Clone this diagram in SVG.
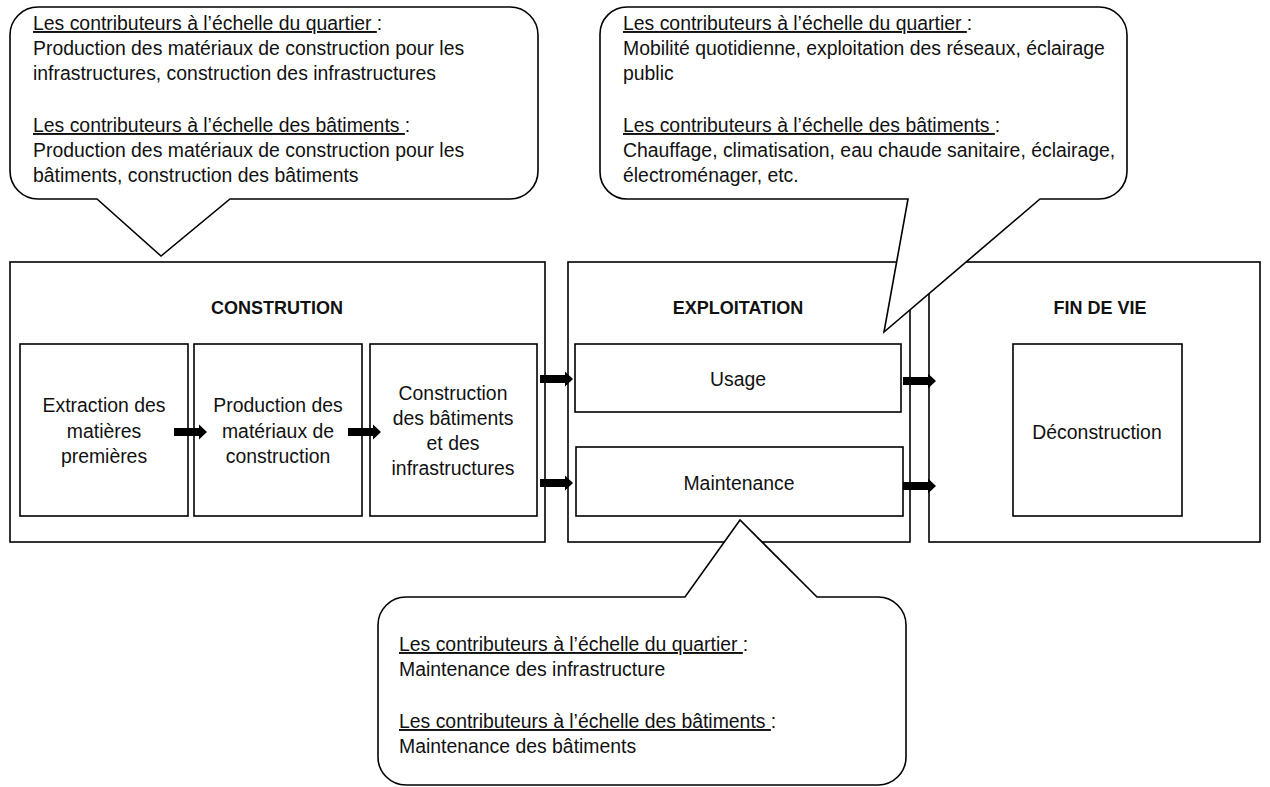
<svg xmlns="http://www.w3.org/2000/svg" xmlns:xlink="http://www.w3.org/1999/xlink" width="1270" height="787" viewBox="0 0 1270 787">
<style>
.box{fill:#fff;stroke:#000;stroke-width:1.6}
.call{fill:#fff;stroke:#000;stroke-width:1.6;stroke-linejoin:miter}
text{font-family:"Liberation Sans",Arial,sans-serif;font-size:19.4px;fill:#111}
.c{text-anchor:middle}
.b{font-weight:bold;font-size:18px}
.u{text-decoration:underline}
</style>
<defs>
<path id="arr" d="M0,-4 H25 V-7.5 L33,0 L25,7.5 V4 H0 Z" fill="#000"/>
</defs>
<rect width="1270" height="787" fill="#fff"/>
<g id="construction">
<rect class="box" x="10" y="262" width="535" height="280"/>
<text class="c b" x="277" y="314">CONSTRUTION</text>
</g>
<g id="extraction">
<rect class="box" x="20" y="344" width="168" height="172"/>
<text class="c" x="104" y="412">Extraction des</text>
<text class="c" x="104" y="438">matières</text>
<text class="c" x="104" y="463">premières</text>
</g>
<g id="production">
<rect class="box" x="194" y="344" width="168" height="172"/>
<text class="c" x="278" y="412">Production des</text>
<text class="c" x="278" y="438">matériaux de</text>
<text class="c" x="278" y="463">construction</text>
</g>
<g id="construction-bat">
<rect class="box" x="370" y="344" width="167" height="172"/>
<text class="c" x="453" y="400">Construction</text>
<text class="c" x="453" y="425">des bâtiments</text>
<text class="c" x="453" y="450">et des</text>
<text class="c" x="453" y="475">infrastructures</text>
</g>
<g id="exploitation">
<rect class="box" x="568" y="262" width="342" height="280"/>
<text class="c b" x="738" y="314">EXPLOITATION</text>
</g>
<g id="usage">
<rect class="box" x="575" y="344" width="326" height="68"/>
<text class="c" x="738" y="386">Usage</text>
</g>
<g id="maintenance">
<rect class="box" x="576" y="447" width="327" height="69"/>
<text class="c" x="739" y="490">Maintenance</text>
</g>
<g id="findevie">
<rect class="box" x="929" y="262" width="331" height="280"/>
<text class="c b" x="1100" y="314">FIN DE VIE</text>
</g>
<g id="deconstruction">
<rect class="box" x="1013" y="344" width="169" height="172"/>
<text class="c" x="1097" y="439">Déconstruction</text>
</g>
<g id="connectors">
<use xlink:href="#arr" x="174" y="432"/>
<use xlink:href="#arr" x="348" y="432"/>
<use xlink:href="#arr" x="540" y="379"/>
<use xlink:href="#arr" x="540" y="483"/>
<use xlink:href="#arr" x="903" y="381"/>
<use xlink:href="#arr" x="903" y="486"/>
</g>
<g id="callout-construction">
<path class="call" d="M38,7 H510 A28,28 0 0 1 538,35 V171 A28,28 0 0 1 510,199 H230 L161,256 L97,199 H38 A28,28 0 0 1 10,171 V35 A28,28 0 0 1 38,7 Z"/>
<text x="33" y="30"><tspan class="u">Les contributeurs à l’échelle du quartier </tspan>:</text>
<text x="33" y="55">Production des matériaux de construction pour les</text>
<text x="33" y="80">infrastructures, construction des infrastructures</text>
<text x="33" y="132"><tspan class="u">Les contributeurs à l’échelle des bâtiments </tspan>:</text>
<text x="33" y="157">Production des matériaux de construction pour les</text>
<text x="33" y="182">bâtiments, construction des bâtiments</text>
</g>
<g id="callout-exploitation">
<path class="call" d="M627,7 H1099 A28,28 0 0 1 1127,35 V171 A28,28 0 0 1 1099,199 H1040 L884,332 L908,199 H627 A27,27 0 0 1 600,172 V34 A27,27 0 0 1 627,7 Z"/>
<text x="623" y="30"><tspan class="u">Les contributeurs à l’échelle du quartier </tspan>:</text>
<text x="623" y="55">Mobilité quotidienne, exploitation des réseaux, éclairage</text>
<text x="623" y="80">public</text>
<text x="623" y="132"><tspan class="u">Les contributeurs à l’échelle des bâtiments </tspan>:</text>
<text x="623" y="157">Chauffage, climatisation, eau chaude sanitaire, éclairage,</text>
<text x="623" y="182">électroménager, etc.</text>
</g>
<g id="callout-maintenance">
<path class="call" d="M406,597 H685 L740,520 L817,597 H878 A28,28 0 0 1 906,625 V757 A28,28 0 0 1 878,785 H406 A28,28 0 0 1 378,757 V625 A28,28 0 0 1 406,597 Z"/>
<text x="399" y="651"><tspan class="u">Les contributeurs à l’échelle du quartier </tspan>:</text>
<text x="399" y="676">Maintenance des infrastructure</text>
<text x="399" y="728"><tspan class="u">Les contributeurs à l’échelle des bâtiments </tspan>:</text>
<text x="399" y="753">Maintenance des bâtiments</text>
</g>
</svg>
